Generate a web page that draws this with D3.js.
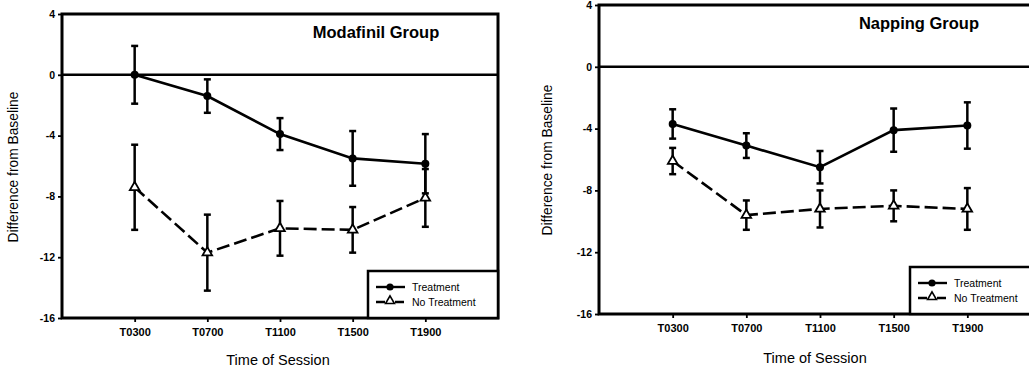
<!DOCTYPE html>
<html>
<head>
<meta charset="utf-8">
<script src="https://cdn.jsdelivr.net/npm/d3@7"></script>
<style>
  body { margin: 0; background: #fff; }
  svg { display: block; font-family: "Liberation Sans", Arial, sans-serif; }
</style>
</head>
<body>
<svg id="chart" width="1029" height="373"></svg>
<script>
const sessions = ["T0300", "T0700", "T1100", "T1500", "T1900"];
const yTicks = [4, 0, -4, -8, -12, -16];

// Modafinil group: means and error (+/-)
const modTreat = [0, -1.4, -3.9, -5.5, -5.85];
const modTreatErr = [1.9, 1.1, 1.05, 1.8, 1.95];
const modNoTreat = [-7.4, -11.7, -10.1, -10.2, -8.1];
const modNoTreatErr = [2.8, 2.5, 1.8, 1.5, 1.9];

// Napping group
const napTreat = [-3.7, -5.1, -6.5, -4.1, -3.8];
const napTreatErr = [0.95, 0.8, 1.05, 1.4, 1.5];
const napNoTreat = [-6.1, -9.6, -9.2, -9.0, -9.2];
const napNoTreatErr = [0.85, 0.95, 1.2, 1.0, 1.35];

const svg = d3.select('#chart');

function panel(opt) {
  const x = d3.scaleLinear().domain([0, 6]).range([opt.left, opt.right]);
  const y = d3.scaleLinear().domain([-16, 4]).range([opt.bottom, opt.top]);
  const g = svg.append('g');

  // axes (ticks + labels only, frame drawn separately)
  g.append('g')
    .attr('transform', `translate(${opt.left},0)`)
    .call(d3.axisLeft(y).tickValues(yTicks).tickSize(4).tickPadding(3).tickFormat(d => String(d)))
    .call(a => a.select('.domain').remove())
    .call(a => a.selectAll('line').attr('stroke', '#000').attr('stroke-width', 1.8))
    .call(a => a.selectAll('text').attr('font-size', 10.5).attr('font-weight', 'bold').attr('font-family', null).attr('fill', '#000'));

  g.append('g')
    .attr('transform', `translate(0,${opt.bottom})`)
    .call(d3.axisBottom(x).tickValues([1, 2, 3, 4, 5]).tickSize(4).tickPadding(6).tickFormat(i => sessions[i - 1]))
    .call(a => a.select('.domain').remove())
    .call(a => a.selectAll('line').attr('stroke', '#000').attr('stroke-width', 1.8))
    .call(a => a.selectAll('text').attr('font-size', 11).attr('font-weight', 'bold').attr('font-family', null).attr('fill', '#000'));

  // frame
  g.append('rect')
    .attr('x', opt.left).attr('y', opt.top)
    .attr('width', opt.right - opt.left).attr('height', opt.bottom - opt.top)
    .attr('fill', 'none').attr('stroke', '#000').attr('stroke-width', 3);

  // zero line
  g.append('line')
    .attr('x1', opt.left).attr('x2', opt.right)
    .attr('y1', y(0)).attr('y2', y(0))
    .attr('stroke', '#000').attr('stroke-width', 2.5);

  const series = [
    {vals: opt.noTreat, err: opt.noTreatErr, dash: '13,5', marker: 'tri'},
    {vals: opt.treat, err: opt.treatErr, dash: null, marker: 'dot'}
  ];

  series.forEach(s => {
    const pts = s.vals.map((v, i) => ({x: i + 1, v: v, e: s.err[i]}));
    const eb = g.append('g').attr('stroke', '#000').attr('stroke-width', 2.5);
    eb.selectAll('line.v').data(pts).join('line')
      .attr('x1', d => x(d.x)).attr('x2', d => x(d.x))
      .attr('y1', d => y(d.v + d.e)).attr('y2', d => y(d.v - d.e));
    eb.selectAll('line.t').data(pts).join('line')
      .attr('x1', d => x(d.x) - 3.5).attr('x2', d => x(d.x) + 3.5)
      .attr('y1', d => y(d.v + d.e)).attr('y2', d => y(d.v + d.e));
    eb.selectAll('line.b').data(pts).join('line')
      .attr('x1', d => x(d.x) - 3.5).attr('x2', d => x(d.x) + 3.5)
      .attr('y1', d => y(d.v - d.e)).attr('y2', d => y(d.v - d.e));

    g.append('path')
      .datum(pts)
      .attr('fill', 'none').attr('stroke', '#000').attr('stroke-width', 2.6)
      .attr('stroke-dasharray', s.dash)
      .attr('d', d3.line().x(d => x(d.x)).y(d => y(d.v)));

    if (s.marker === 'dot') {
      g.selectAll(null).data(pts).join('circle')
        .attr('cx', d => x(d.x)).attr('cy', d => y(d.v)).attr('r', 4).attr('fill', '#000');
    } else {
      g.selectAll(null).data(pts).join('path')
        .attr('transform', d => `translate(${x(d.x)},${y(d.v)})`)
        .attr('d', d3.symbol(d3.symbolTriangle, 40))
        .attr('fill', '#fff').attr('stroke', '#000').attr('stroke-width', 1.8);
    }
  });

  // legend
  const lg = g.append('g').attr('transform', `translate(${opt.legX},${opt.legY})`);
  lg.append('rect').attr('width', opt.legW).attr('height', opt.bottom - opt.legY)
    .attr('fill', '#fff').attr('stroke', '#000').attr('stroke-width', 2.5);
  [{label: 'Treatment', dash: null, marker: 'dot', dy: 16},
   {label: 'No Treatment', dash: '9,4,2,4', marker: 'tri', dy: 31}].forEach(l => {
    lg.append('line').attr('x1', 8).attr('x2', 37).attr('y1', l.dy).attr('y2', l.dy)
      .attr('stroke', '#000').attr('stroke-width', 2.4).attr('stroke-dasharray', l.dash);
    if (l.marker === 'dot') {
      lg.append('circle').attr('cx', 22).attr('cy', l.dy).attr('r', 3.6).attr('fill', '#000');
    } else {
      lg.append('path').attr('transform', `translate(22,${l.dy - 1})`)
        .attr('d', d3.symbol(d3.symbolTriangle, 34))
        .attr('fill', '#fff').attr('stroke', '#000').attr('stroke-width', 1.6);
    }
    lg.append('text').attr('x', 44).attr('y', l.dy + 4).attr('font-size', 10.5).text(l.label);
  });

  // title
  g.append('text')
    .attr('x', opt.titleX).attr('y', opt.titleY)
    .attr('text-anchor', 'middle').attr('font-size', 16.5).attr('font-weight', 'bold')
    .text(opt.title);

  // axis titles
  g.append('text')
    .attr('transform', `translate(${opt.ylabX},${opt.ylabY}) rotate(-90)`)
    .attr('text-anchor', 'middle').attr('font-size', 13.8)
    .text('Difference from Baseline');
  g.append('text')
    .attr('x', opt.xlabX).attr('y', opt.xlabY)
    .attr('text-anchor', 'middle').attr('font-size', 14.5)
    .text('Time of Session');
}

panel({
  left: 62, right: 498, top: 14, bottom: 318,
  treat: modTreat, treatErr: modTreatErr, noTreat: modNoTreat, noTreatErr: modNoTreatErr,
  legX: 368, legY: 271, legW: 130,
  title: 'Modafinil Group', titleX: 376, titleY: 38,
  ylabX: 18, ylabY: 167, xlabX: 278, xlabY: 365
});

panel({
  left: 599, right: 1041, top: 5, bottom: 314,
  treat: napTreat, treatErr: napTreatErr, noTreat: napNoTreat, noTreatErr: napNoTreatErr,
  legX: 910, legY: 267, legW: 130,
  title: 'Napping Group', titleX: 919, titleY: 29,
  ylabX: 552, ylabY: 160, xlabX: 815, xlabY: 363
});
</script>
</body>
</html>
